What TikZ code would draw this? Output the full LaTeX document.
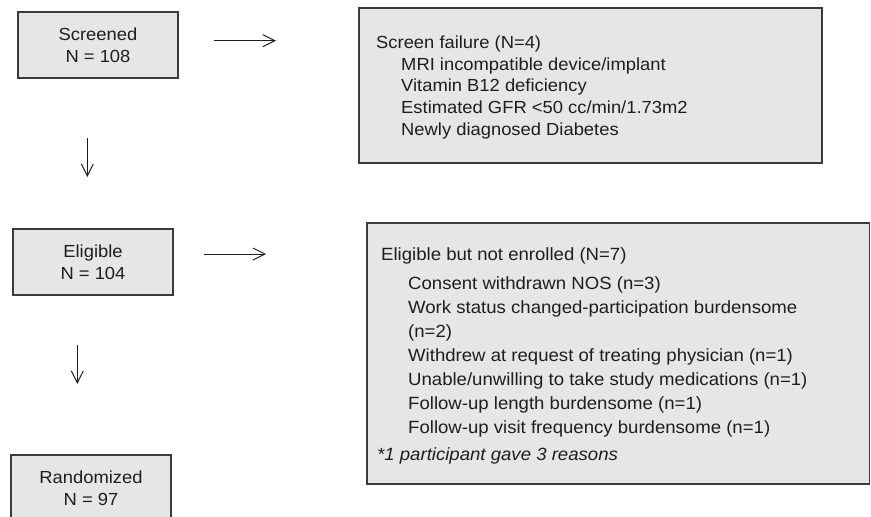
\documentclass[tikz,border=0pt]{standalone}
\usepackage{fontspec}
\setmainfont{Liberation Sans}[FakeStretch=1.05]
\usetikzlibrary{arrows.meta}
\definecolor{boxfill}{HTML}{E6E6E6}
\definecolor{boxline}{HTML}{3A3A3A}
\definecolor{ink}{HTML}{1E1E1E}
\begin{document}
\begin{tikzpicture}[x=1pt,y=-1pt,
  box/.style={draw=boxline, fill=boxfill, line width=1.3pt, inner sep=0pt, rectangle},
  smallbox/.style={box, minimum width=160pt, minimum height=66pt, align=center, text=ink,
    font=\fontsize{17.5}{22}\selectfont},
  listtext/.style={anchor=base west, align=left, inner sep=0pt, text=ink},
  flow/.style={draw=ink, line width=1pt, -{Straight Barb[length=12pt,width=12pt,line width=1pt]}}]
\useasboundingbox (0,0) rectangle (871,517);
\clip (0,0) rectangle (871,517);
% left column
\node[smallbox] (screened) at (98,45) {Screened\\N = 108};
\node[smallbox] (eligible) at (93,262) {Eligible\\N = 104};
\node[smallbox] (randomized) at (91,488) {Randomized\\N = 97};
% right boxes
\node[box, minimum width=463pt, minimum height=155pt] (failure) at (590.5,85.5) {};
\node[box, minimum width=502.5pt, minimum height=261pt] (notenrolled) at (618.25,353.5) {};
% (base anchor of a multi-line node = baseline of its last line)
\node[listtext, font=\fontsize{17.5}{21.7}\selectfont] (failtext) at (376,135.1)
  {Screen failure (N=4)\\
   \hspace*{25pt}MRI incompatible device/implant\\
   \hspace*{25pt}Vitamin B12 deficiency\\
   \hspace*{25pt}Estimated GFR <50 cc/min/1.73m2\\
   \hspace*{25pt}Newly diagnosed Diabetes};
\node[listtext, font=\fontsize{17.7}{24}\selectfont] (notenrolledtext) at (377,460)
  {\hspace*{4pt}Eligible but not enrolled (N=7)\\[5pt]
   \hspace*{31pt}Consent withdrawn NOS (n=3)\\
   \hspace*{31pt}Work status changed-participation burdensome\\
   \hspace*{31pt}(n=2)\\
   \hspace*{31pt}Withdrew at request of treating physician (n=1)\\
   \hspace*{31pt}Unable/unwilling to take study medications (n=1)\\
   \hspace*{31pt}Follow-up length burdensome (n=1)\\
   \hspace*{31pt}Follow-up visit frequency burdensome (n=1)\\[3pt]
   \textit{*1 participant gave 3 reasons}};
% arrows
\coordinate (a1s) at (214,40.7);
\coordinate (a1e) at (276,40.7);
\coordinate (a2s) at (204,254);
\coordinate (a2e) at (266,254);
\coordinate (d1s) at (87.3,138);
\coordinate (d1e) at (87.3,177);
\coordinate (d2s) at (77.3,345);
\coordinate (d2e) at (77.3,384);
\draw[flow] (a1s) -- (a1e);
\draw[flow] (a2s) -- (a2e);
\draw[flow] (d1s) -- (d1e);
\draw[flow] (d2s) -- (d2e);
\end{tikzpicture}
\end{document}
